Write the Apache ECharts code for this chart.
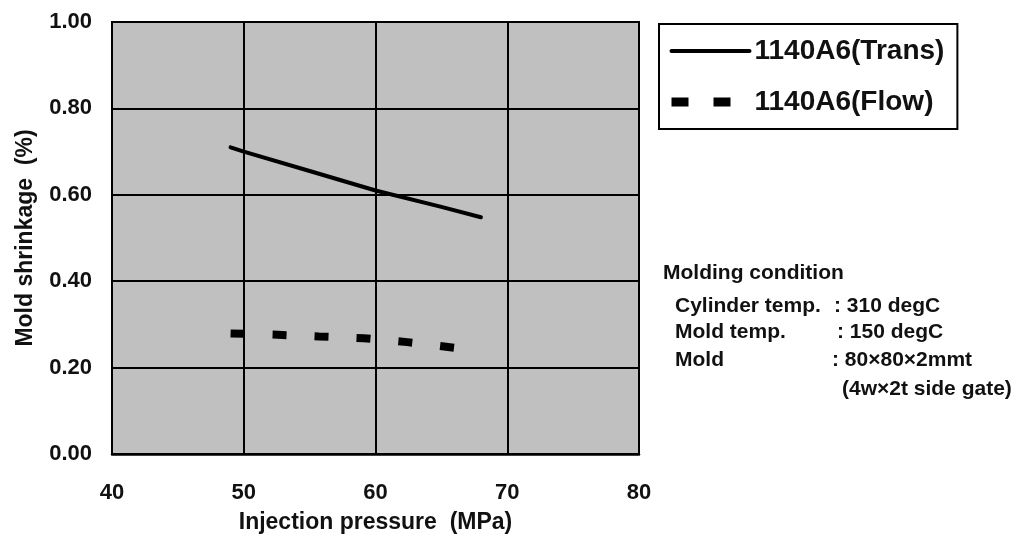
<!DOCTYPE html>
<html>
<head>
<meta charset="utf-8">
<script src="https://cdn.jsdelivr.net/npm/echarts@6/dist/echarts.min.js"></script>
<style>
html,body{margin:0;padding:0;background:#fff;}
#chart{width:1021px;height:545px;}
</style>
</head>
<body>
<div id="chart"></div>
<script>
// Data
var seriesNames = ['1140A6(Trans)', '1140A6(Flow)'];
var transX = [49, 50, 55, 60, 65, 68];
var transY = [0.710, 0.700, 0.655, 0.610, 0.572, 0.548];
var flowX = [49, 52.6, 55.7, 59.1, 62.4, 66];
var flowY = [0.279, 0.276, 0.272, 0.268, 0.259, 0.246];
var xTicks = [40, 50, 60, 70, 80];
var yTicks = [0.00, 0.20, 0.40, 0.60, 0.80, 1.00];
var xAxisTitle = 'Injection pressure  (MPa)';
var yAxisTitle = 'Mold shrinkage  (%)';
var noteTitle = 'Molding condition';
var noteLabels = ['Cylinder temp.', 'Mold temp.', 'Mold', ''];
var noteValues = [': 310 degC', ': 150 degC', ': 80\u00d780\u00d72mmt', '(4w\u00d72t side gate)'];

function pairs(xs, ys) { return xs.map(function (x, i) { return [x, ys[i]]; }); }

var FONT = '"Liberation Sans", Arial, sans-serif';
var TXT = '#111';

var chart = echarts.init(document.getElementById('chart'));

var noteY = [305, 331, 359, 388];
var noteValX = [834, 837, 832, 842];
var graphics = [{
  type: 'text', left: 663, top: 272 - 9,
  style: { text: noteTitle, font: 'bold 21px ' + FONT, fill: TXT }
}];
noteLabels.forEach(function (lab, i) {
  if (lab) graphics.push({ type: 'text', left: 675, top: noteY[i] - 9,
    style: { text: lab, font: 'bold 21px ' + FONT, fill: TXT } });
  graphics.push({ type: 'text', left: noteValX[i], top: noteY[i] - 9,
    style: { text: noteValues[i], font: 'bold 21px ' + FONT, fill: TXT } });
});

chart.setOption({
  animation: false,
  backgroundColor: '#fff',
  grid: {
    left: 112, right: 382, top: 22, bottom: 91,
    show: true, backgroundColor: '#c0c0c0', borderColor: '#000', borderWidth: 2
  },
  legend: {
    orient: 'vertical', left: 659, top: 24,
    data: [
      { name: seriesNames[0], lineStyle: { width: 4, type: 'solid' } },
      { name: seriesNames[1], lineStyle: { width: 9, type: [17, 25] } }
    ],
    borderColor: '#000', borderWidth: 2, backgroundColor: '#fff',
    padding: [12, 13, 12, 8],
    itemWidth: 78, itemHeight: 20, itemGap: 21,
    itemStyle: { opacity: 0 },
    textStyle: { color: TXT, fontFamily: FONT, fontWeight: 'bold', fontSize: 28, lineHeight: 30 }
  },
  xAxis: {
    type: 'value', min: xTicks[0], max: xTicks[xTicks.length - 1], interval: 10,
    name: xAxisTitle, nameLocation: 'middle', nameGap: 57,
    nameTextStyle: { color: TXT, fontFamily: FONT, fontWeight: 'bold', fontSize: 23 },
    axisLine: { show: true, lineStyle: { color: '#000', width: 2.5 } },
    axisTick: { show: false },
    axisLabel: { color: TXT, fontFamily: FONT, fontWeight: 'bold', fontSize: 22, margin: 28 },
    splitLine: { show: true, lineStyle: { color: '#000', width: 2 } }
  },
  yAxis: {
    type: 'value', min: yTicks[0], max: yTicks[yTicks.length - 1], interval: 0.2,
    name: yAxisTitle, nameLocation: 'middle', nameGap: 75,
    nameTextStyle: { color: TXT, fontFamily: FONT, fontWeight: 'bold', fontSize: 23 },
    axisLine: { show: true, lineStyle: { color: '#000', width: 2 } },
    axisTick: { show: false },
    axisLabel: { color: TXT, fontFamily: FONT, fontWeight: 'bold', fontSize: 22, margin: 20,
      formatter: function (v) { return v.toFixed(2); } },
    splitLine: { show: true, lineStyle: { color: '#000', width: 2 } }
  },
  graphic: graphics,
  series: [
    {
      name: seriesNames[0], type: 'line', symbol: 'none', showSymbol: false,
      data: pairs(transX, transY),
      lineStyle: { color: '#000', width: 4, cap: 'round' },
      itemStyle: { color: '#000' }
    },
    {
      name: seriesNames[1], type: 'line', symbol: 'none', showSymbol: false,
      data: pairs(flowX, flowY),
      lineStyle: { color: '#000', width: 8, type: [14, 28], cap: 'butt' },
      itemStyle: { color: '#000' }
    }
  ]
});
</script>
</body>
</html>
